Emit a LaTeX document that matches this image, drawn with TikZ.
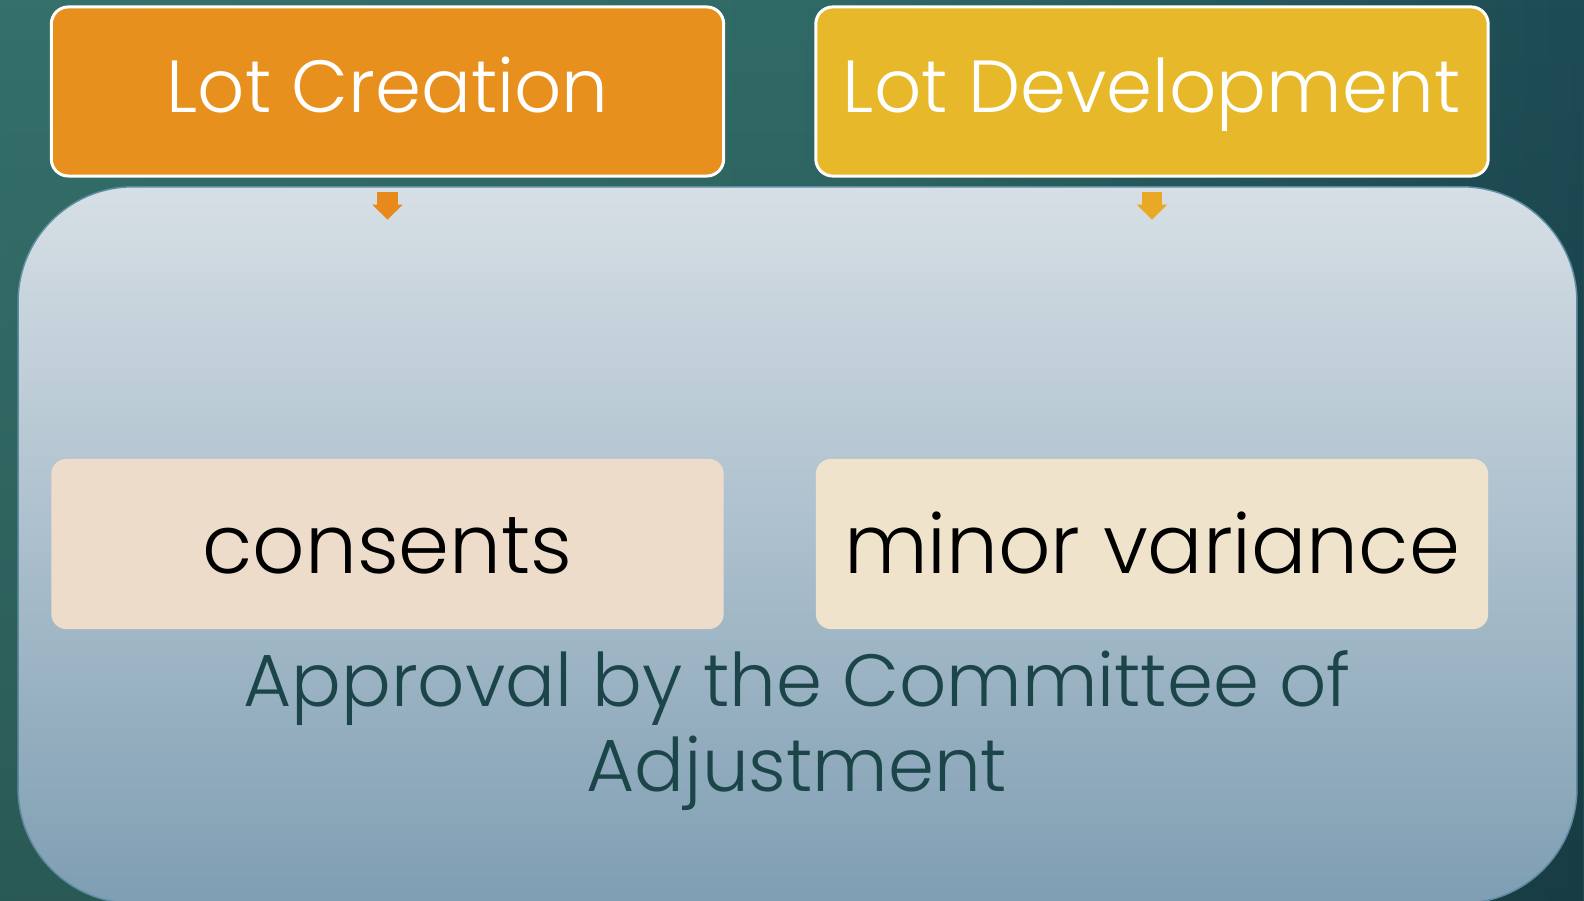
\documentclass[tikz,border=0pt]{standalone}
\usepackage{fontspec}
\setmainfont{Poppins}[UprightFont=* Light]
\usepackage{tikz}
\usetikzlibrary{arrows.meta, fadings}
\usepackage{xcolor}

\definecolor{bgleft}{HTML}{3A7771}
\definecolor{bgmiddle}{HTML}{306A66}
\definecolor{bgright}{HTML}{143B4B}
\definecolor{boxtop}{HTML}{D6DFE5}
\definecolor{boxbottom}{HTML}{7F9EB3}
\definecolor{boxline}{HTML}{5E8DA3}
\definecolor{lcorange}{HTML}{E8901E}
\definecolor{ldyellow}{HTML}{E6B82A}
\definecolor{lcarrow}{HTML}{E8891C}
\definecolor{ldarrow}{HTML}{E9A927}
\definecolor{lcpale}{HTML}{EEDCCB}
\definecolor{ldpale}{HTML}{EFE3CC}
\definecolor{coatext}{HTML}{1B4548}

\pgfdeclarehorizontalshading{bgshade}{100bp}{color(0bp)=(bgleft); color(50bp)=(bgmiddle); color(88bp)=(bgright); color(100bp)=(bgright)}

\tikzset{
	topbox/.style = {draw=white, line width=0.03cm, rounded corners=0.17cm, minimum width=6.72cm, minimum height=1.69cm, text height=0.6cm, text depth=0.17cm, text=white, font=\fontsize{21}{25}\selectfont},
	subbox/.style = {rounded corners=0.15cm, minimum width=6.72cm, minimum height=1.70cm, text height=0.64cm, text depth=0.06cm, text=black, font=\fontsize{23.3}{28}\selectfont},
	downarrow/.style = {line width=0.2cm, -{Triangle[width=0.3cm, length=0.15cm]}}
}

\begin{document}
\begin{tikzpicture}[x=0.01cm, y=-0.01cm]
	\shade [shading=bgshade] (0,0) rectangle (1584,901);
	\fill [black, opacity=0.2, path fading=north] (0,0) rectangle (1584,901);
	\useasboundingbox (0,0) rectangle (1584,901);

	\node [shade, top color=boxtop, bottom color=boxbottom, draw=boxline, line width=0.015cm, rounded corners=1.15cm, minimum width=15.58cm, minimum height=7.16cm] (coa) at (797.5,545) {};

	\node [topbox, fill=lcorange] (lc) at (387.5,91.5) {Lot Creation};
	\node [topbox, fill=ldyellow] (ld) at (1152,91.5) {Lot Development};

	\draw [downarrow, lcarrow] ([yshift=-0.14cm]lc.south) -- ++(0,28);
	\draw [downarrow, ldarrow] ([yshift=-0.14cm]ld.south) -- ++(0,28);

	\node [subbox, fill=lcpale] (cons) at (387.5,544) {consents};
	\node [subbox, fill=ldpale] (mv) at (1152,544) {minor variance};

	\node [text=coatext, align=center, font=\fontsize{21}{24.2}\selectfont] (appr) at (797,731) {Approval by the Committee of\\Adjustment};
\end{tikzpicture}
\end{document}
